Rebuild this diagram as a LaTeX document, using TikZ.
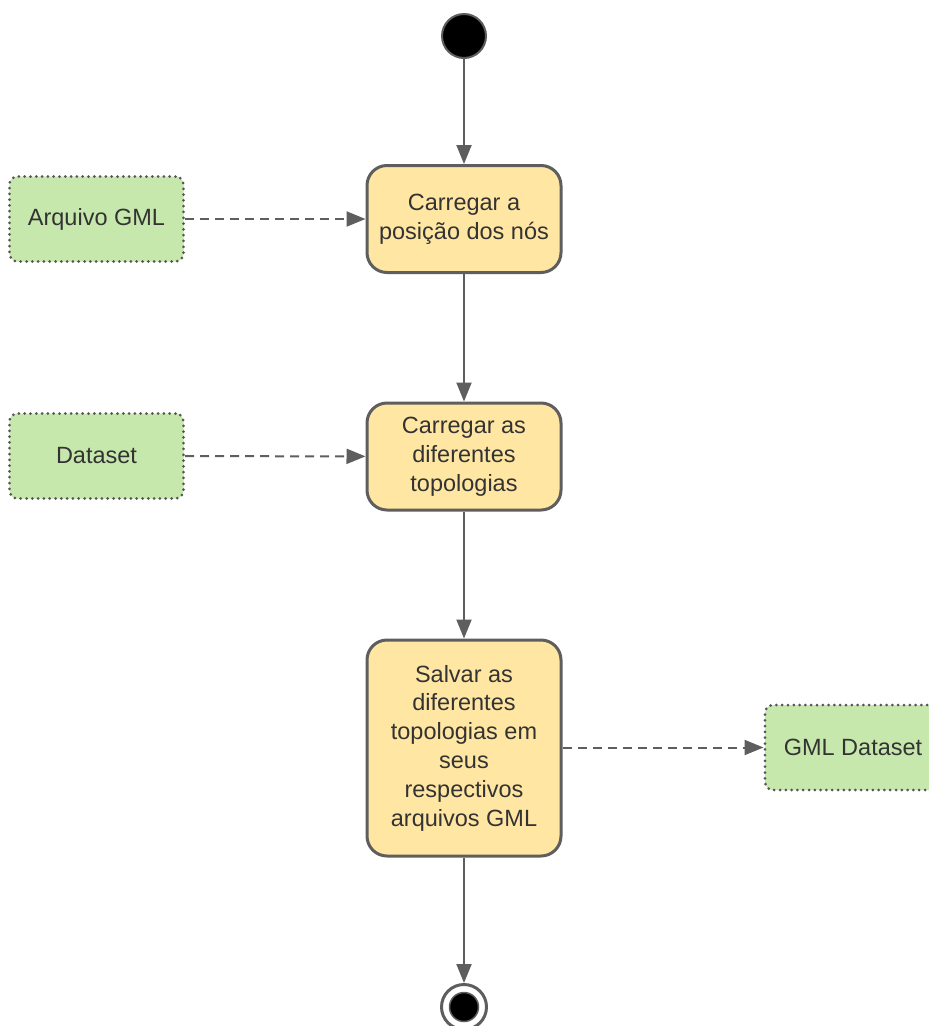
\documentclass[tikz,border=0pt]{standalone}
\usepackage{fontspec}
\setmainfont{Liberation Sans}
\usetikzlibrary{arrows.meta}
\definecolor{edgegray}{HTML}{5E5E5E}
\definecolor{inkgray}{HTML}{333333}
\definecolor{actfill}{HTML}{FFE6A2}
\definecolor{objfill}{HTML}{C7E8AC}
\tikzset{
  activity/.style={rectangle, rounded corners=20pt, draw=edgegray, line width=3pt,
    fill=actfill, text=inkgray, align=center, minimum width=194pt, inner sep=0pt,
    font=\fontsize{23.5}{28.8}\selectfont},
  artifact/.style={rectangle, rounded corners=8pt, draw=edgegray!90!black, line width=3pt,
    line cap=round, dash pattern=on 0pt off 5.8pt, fill=objfill, text=inkgray, align=center,
    minimum width=174pt, minimum height=85pt, inner sep=0pt,
    font=\fontsize{23.5}{28.8}\selectfont},
  flow/.style={draw=edgegray, line width=2pt, -{Triangle[length=19pt,width=15pt]}},
  dataflow/.style={flow, dash pattern=on 9pt off 6pt}
}
\begin{document}
\begin{tikzpicture}[x=1pt,y=-1pt]
\useasboundingbox[fill=white] (0,0) rectangle (929,1026);

% initial and final states
\node[circle, fill=black, draw=edgegray, line width=2pt, minimum size=44pt, inner sep=0pt] (start) at (464,36) {};
\node[circle, draw=edgegray, line width=3pt, minimum size=45pt, inner sep=0pt] (finish) at (464,1007) {};
\node[circle, fill=black, draw=edgegray, line width=1.5pt, minimum size=29pt, inner sep=0pt] (finishdot) at (finish) {};

% activities
\node[activity, minimum height=107pt] (load) at (464,219) {Carregar a\\posição dos nós};
\node[activity, minimum height=107pt] (topo) at (464,456.5) {Carregar as\\diferentes\\topologias};
\node[activity, minimum height=216pt] (save) at (464,748) {Salvar as\\diferentes\\topologias em\\seus\\respectivos\\arquivos GML};

% artifacts
\node[artifact] (gml) at (96.5,219) {Arquivo GML};
\node[artifact] (data) at (96.5,456) {Dataset};
\node[artifact, minimum width=176pt] (gmldata) at (853,747.5) {GML Dataset};

% control flow
\draw[flow] (start) -- (load);
\draw[flow] (load) -- (topo);
\draw[flow] (topo) -- (save);
\draw[flow] (save) -- (finish);

% object flow
\draw[dataflow] (gml) -- (load);
\draw[dataflow] (data) -- (topo);
\draw[dataflow] (save.east |- gmldata.west) -- (gmldata.west);
\end{tikzpicture}
\end{document}
